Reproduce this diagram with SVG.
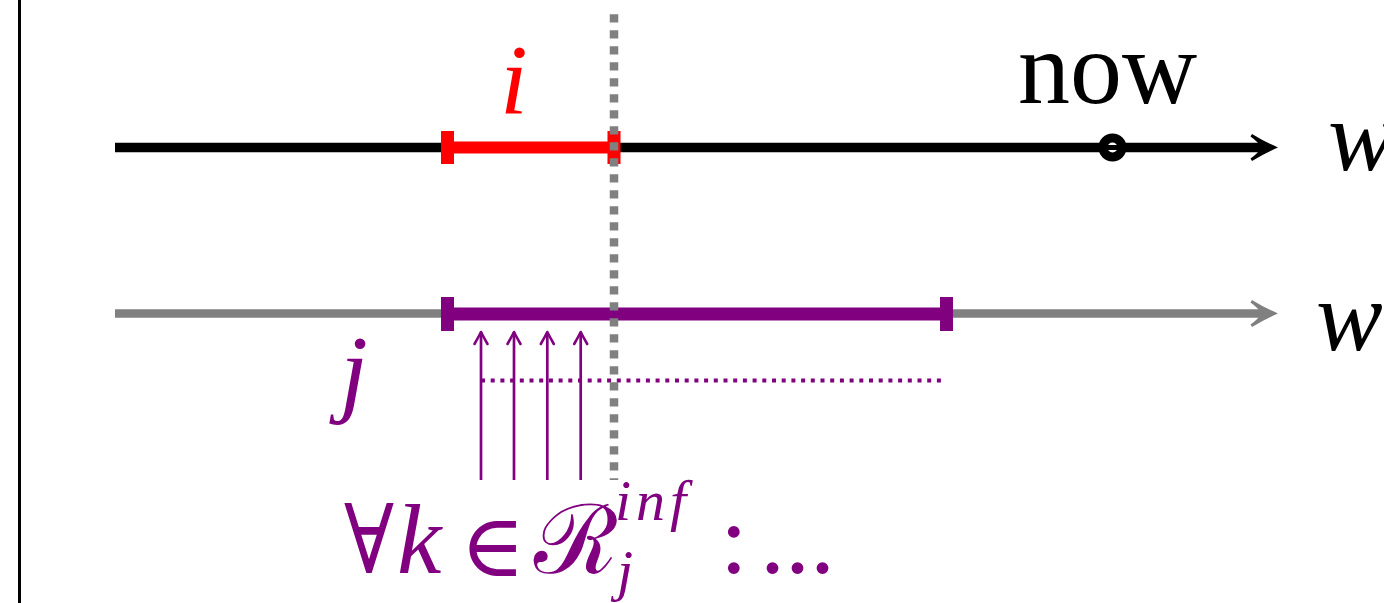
<svg xmlns="http://www.w3.org/2000/svg" width="1384" height="603" viewBox="0 0 1384 603">
<style>
.serif{font-family:"Liberation Serif","Times New Roman",serif;}
.it{font-family:"Liberation Serif","Times New Roman",serif;font-style:italic;}
.math{font-family:"DejaVu Serif",serif;}
.purple{fill:#800080;}
.red{fill:#ff0000;}
.black{fill:#000;}
</style>
<defs>
<marker id="kArrow" markerUnits="userSpaceOnUse" markerWidth="30" markerHeight="30" refX="0" refY="0" orient="auto" overflow="visible">
<path d="M-12,-6.5 Q-5,-2.5 0,0 Q-5,2.5 -12,6.5" fill="none" stroke="#800080" stroke-width="2.6" stroke-linecap="round" stroke-linejoin="round"/>
</marker>
<path id="bigHead" d="M0,0 Q-14,-6 -26,-13.5 L-27.5,-11 Q-19,-5 -17,0 Q-19,5 -27.5,11 L-26,13.5 Q-14,6 0,0 Z"/>
</defs>

<rect id="frame" x="18" y="0" width="3" height="603" fill="#000"/>

<g id="connectors">
<g id="axis-w-top">
<line x1="115" y1="147.5" x2="1262" y2="147.5" stroke="#000" stroke-width="9.5"/>
<use href="#bigHead" transform="translate(1278,147.5)" fill="#000"/>
</g>
<g id="axis-w-bottom">
<line x1="115" y1="313.5" x2="1262" y2="313.5" stroke="#808080" stroke-width="8.5"/>
<use href="#bigHead" transform="translate(1278,313.5)" fill="#808080"/>
</g>
<g id="k-arrows" stroke="#800080" stroke-width="2.7" fill="none">
<line x1="481" y1="480" x2="481" y2="332" marker-end="url(#kArrow)"/>
<line x1="514" y1="480" x2="514" y2="332" marker-end="url(#kArrow)"/>
<line x1="547.3" y1="480" x2="547.3" y2="332" marker-end="url(#kArrow)"/>
<line x1="580.7" y1="480" x2="580.7" y2="332" marker-end="url(#kArrow)"/>
</g>
<line id="j-dotted" x1="481" y1="380.5" x2="946" y2="380.5" stroke="#800080" stroke-width="4" stroke-dasharray="4 5.7"/>
</g>

<g id="interval-i">
<rect x="447" y="141.5" width="167" height="12" fill="#ff0000"/>
<rect x="441" y="131" width="13" height="33" fill="#ff0000"/>
<rect x="607.5" y="131" width="13" height="33" fill="#ff0000"/>
<text class="it red" x="500" y="113" font-size="100">i</text>
</g>

<g id="interval-j">
<rect x="447" y="307.5" width="500" height="13" fill="#800080"/>
<rect x="441" y="297" width="13" height="34" fill="#800080"/>
<rect x="940" y="297" width="13" height="34" fill="#800080"/>
<text class="it purple" x="340" y="404" font-size="100">j</text>
</g>

<g id="now">
<circle cx="1112.5" cy="147.5" r="9.5" fill="#fff" stroke="#000" stroke-width="9"/>
<line x1="1105" y1="147.5" x2="1120" y2="147.5" stroke="#000" stroke-width="5"/>
<text class="serif black" x="1018" y="103" font-size="104">now</text>
</g>

<g id="labels-w">
<text class="it black" x="1328" y="170" font-size="100">w</text>
<text class="it black" x="1316" y="350" font-size="100">w</text>
</g>

<g id="now-line">
<line x1="614" y1="14.3" x2="614" y2="480" stroke="#808080" stroke-width="8.5" stroke-dasharray="8.3 7.7"/>
</g>

<g id="formula" class="purple">
<text class="math" x="344" y="573" font-size="96" textLength="50" lengthAdjust="spacingAndGlyphs">∀</text>
<text class="it" x="397" y="573" font-size="100">k</text>
<text class="math" x="460" y="576" font-size="88">∈</text>
<text class="math" x="534" y="573" font-size="96">ℛ</text>
<text class="it" x="615" y="520" font-size="58" letter-spacing="5">inf</text>
<text class="it" x="617" y="590" font-size="58">j</text>
<text class="serif" x="720" y="573" font-size="100">:</text>
<text class="serif" x="760" y="573" font-size="100">...</text>
</g>
</svg>
